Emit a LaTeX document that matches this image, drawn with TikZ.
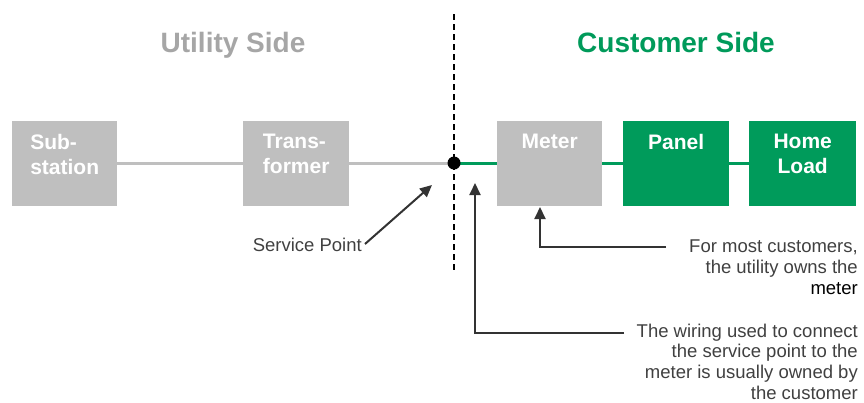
\documentclass[tikz,border=0pt]{standalone}
\usepackage{fontspec}
\setmainfont{Liberation Sans}
\usetikzlibrary{arrows.meta}
\definecolor{boxgray}{HTML}{BFBFBF}
\definecolor{boxgreen}{HTML}{009B5B}
\definecolor{titlegray}{HTML}{A6A6A6}
\definecolor{titlegreen}{HTML}{009A5A}
\definecolor{txt}{HTML}{404040}
\definecolor{arr}{HTML}{333333}
\begin{document}
\begin{tikzpicture}[x=1pt,y=-1pt,
  blk/.style={minimum width=#1, minimum height=85pt, inner sep=0pt, anchor=north west, draw=none},
  graybox/.style={blk=#1, fill=boxgray},
  greenbox/.style={blk=#1, fill=boxgreen},
  boxlbl/.style={anchor=north, inner sep=0pt, yshift=-13pt, text=white, font=\fontsize{21}{25}\selectfont\bfseries},
  title/.style={anchor=base, inner sep=0pt, font=\fontsize{28}{30}\selectfont\bfseries},
  note/.style={inner sep=0pt, text=txt, align=right, font=\fontsize{18.5}{20.8}\selectfont},
  grayline/.style={draw=boxgray, line width=3pt},
  greenline/.style={draw=boxgreen, line width=3pt},
  pointer/.style={draw=arr, line width=2pt, -{Triangle[length=12pt,width=11pt]}},
]
\useasboundingbox (0,0) rectangle (864,402);

% titles
\node[title, text=titlegray] (tutil) at (233,52) {Utility Side};
\node[title, text=titlegreen] (tcust) at (676,52) {Customer Side};

% boundary
\coordinate (dtop) at (454,14);
\coordinate (dbot) at (454,270);
\draw[line width=1.2pt, dash pattern=on 6pt off 4pt] (dtop) -- (dbot);

% boxes
\node[graybox=105pt, label={[boxlbl, align=left]north:{Sub-\\station}}] (sub) at (12,121) {};
\node[graybox=106pt, label={[boxlbl, align=left]north:{Trans-\\former}}] (trans) at (243,121) {};
\node[graybox=105pt, label={[boxlbl, align=center]north:{Meter}}] (meter) at (497,121) {};
\node[greenbox=106pt, label={[boxlbl, align=center]north:{Panel}}] (panel) at (623,121) {};
\node[greenbox=107pt, label={[boxlbl, align=center]north:{Home\\Load}}] (home) at (749,121) {};

% service point
\coordinate (sp) at (454,163);

% wires
\draw[grayline] (sub.east |- sp) -- (trans.west |- sp);
\draw[grayline] (trans.east |- sp) -- (sp);
\draw[greenline] (sp) -- (meter.west |- sp);
\draw[greenline] (meter.east |- sp) -- (panel.west |- sp);
\draw[greenline] (panel.east |- sp) -- (home.west |- sp);
\fill[black] (sp) circle[radius=6.5pt];

% notes
\node[note, anchor=base east] (spl) at (362,251) {Service Point};
\coordinate (spa) at (365,244);
\coordinate (spb) at (432,185);
\draw[pointer] (spa) -- (spb);

\node[note, anchor=north east] (mnote) at (858,239.5) {For most customers,\\the utility owns the\\\textcolor{black}{meter}};
\coordinate (m1) at (666,247);
\coordinate (m2) at (540,247);
\coordinate (m3) at (540,207);
\draw[pointer] (m1) -- (m2) -- (m3);

\node[note, anchor=north east] (wnote) at (858,323.5) {The wiring used to connect\\the service point to the\\meter is usually owned by\\the customer};
\coordinate (w1) at (624,333);
\coordinate (w2) at (475,333);
\coordinate (w3) at (475,183);
\draw[pointer] (w1) -- (w2) -- (w3);
\end{tikzpicture}
\end{document}
